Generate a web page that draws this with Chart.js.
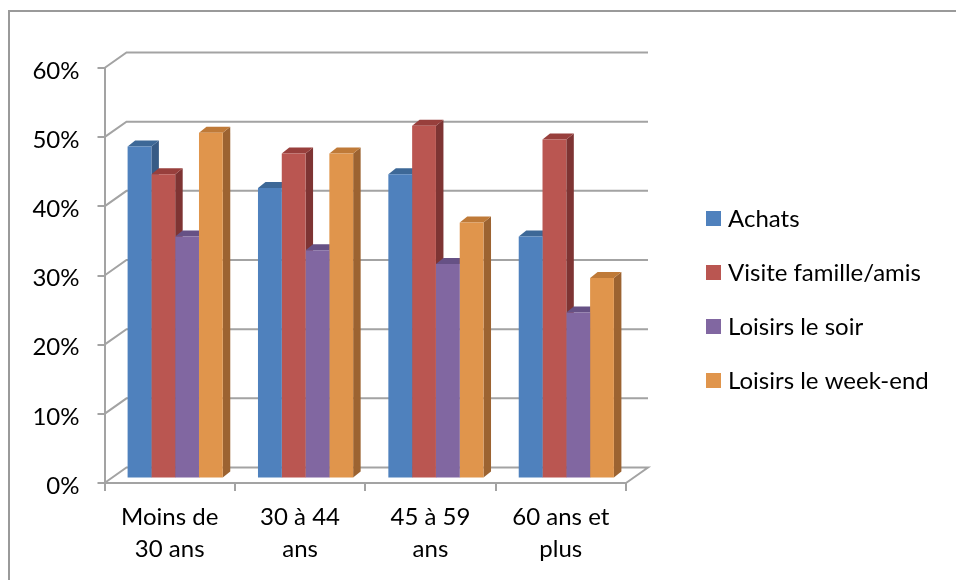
<!DOCTYPE html>
<html>
<head>
<meta charset="utf-8">
<script src="https://cdn.jsdelivr.net/npm/chart.js@4/dist/chart.umd.min.js"></script>
<style>
  html, body { margin: 0; padding: 0; background: #fff; }
  #wrap { width: 956px; height: 580px; }
</style>
</head>
<body>
<div id="wrap"><canvas id="c" width="956" height="580"></canvas></div>
<script>
// ---- data ----
const categories = [["Moins de", "30 ans"], ["30 à 44", "ans"], ["45 à 59", "ans"], ["60 ans et", "plus"]];
const seriesNames = ["Achats", "Visite famille/amis", "Loisirs le soir", "Loisirs le week-end"];
const achats = [48, 42, 44, 35];
const visiteFamilleAmis = [44, 47, 51, 49];
const loisirsSoir = [35, 33, 31, 24];
const loisirsWeekEnd = [50, 47, 37, 29];
const yTickValues = [0, 10, 20, 30, 40, 50, 60];

// ---- styles ----
const FONT = "Lato, 'Open Sans', sans-serif";
const FONT_SIZE = 24;
const GRID = '#a3a3a3';
const frontColors = ['#4F81BD', '#BA5651', '#8167A1', '#E0954C'];
const topColors = ['#3D6897', '#983F3C', '#665185', '#BF7A38'];
const sideColors = ['#375B86', '#7E3433', '#584674', '#9C6331'];
const FACE = { ox: 5.5, oy: -4.5, dx: 7.5, dy: -6 };
const WALL = { dx: 22, dy: -15.5 };

const seriesValues = [achats, visiteFamilleAmis, loisirsSoir, loisirsWeekEnd];

const threeD = {
  id: 'threeD',
  beforeDatasetsDraw(chart) {
    const { ctx, chartArea: a } = chart;
    const ys = chart.scales.y;
    ctx.save();
    // back wall gridlines + left wall diagonals + floor
    ctx.strokeStyle = GRID;
    ctx.lineWidth = 2;
    ys.ticks.forEach(t => {
      const fy = ys.getPixelForValue(t.value);
      ctx.beginPath();
      ctx.moveTo(a.left, fy);
      ctx.lineTo(a.left + WALL.dx, fy + WALL.dy);
      ctx.lineTo(a.right + WALL.dx, fy + WALL.dy);
      if (t.value === 0) ctx.lineTo(a.right, fy);
      ctx.stroke();
    });
    // bar side and top faces, placed at the bars' depth
    ctx.translate(FACE.ox, FACE.oy);
    chart.data.datasets.forEach((ds, i) => {
      chart.getDatasetMeta(i).data.forEach(bar => {
        const p = bar.getProps(['x', 'y', 'base', 'width'], true);
        const l = p.x - p.width / 2, r = p.x + p.width / 2;
        const top = p.y, base = p.base;
        ctx.fillStyle = sideColors[i];
        ctx.beginPath();
        ctx.moveTo(r, top);
        ctx.lineTo(r + FACE.dx, top + FACE.dy);
        ctx.lineTo(r + FACE.dx, base + FACE.dy);
        ctx.lineTo(r, base);
        ctx.closePath();
        ctx.fill();
        ctx.fillStyle = topColors[i];
        ctx.beginPath();
        ctx.moveTo(l, top);
        ctx.lineTo(r, top);
        ctx.lineTo(r + FACE.dx, top + FACE.dy);
        ctx.lineTo(l + FACE.dx, top + FACE.dy);
        ctx.closePath();
        ctx.fill();
      });
    });
    // the library then draws the front faces with this same offset
  },
  afterDatasetsDraw(chart) {
    chart.ctx.restore();
  },
  afterDraw(chart) {
    const ctx = chart.ctx;
    ctx.save();
    // outer frame
    ctx.strokeStyle = '#9a9a9a';
    ctx.lineWidth = 2;
    ctx.beginPath();
    ctx.moveTo(9, 600);
    ctx.lineTo(9, 11);
    ctx.lineTo(970, 11);
    ctx.stroke();
    // legend
    ctx.font = FONT_SIZE + 'px ' + FONT;
    ctx.textBaseline = 'middle';
    ctx.textAlign = 'left';
    chart.data.datasets.forEach((ds, i) => {
      const cy = 218.5 + i * 54;
      ctx.fillStyle = ds.backgroundColor;
      ctx.fillRect(706, cy - 7.5, 15, 15);
      ctx.fillStyle = '#000';
      ctx.fillText(ds.label, 728, cy + 1);
    });
    ctx.restore();
  }
};

new Chart(document.getElementById('c'), {
  type: 'bar',
  data: {
    labels: categories,
    datasets: seriesNames.map((name, i) => ({
      label: name,
      data: seriesValues[i],
      backgroundColor: frontColors[i],
      borderWidth: 0,
      categoryPercentage: 0.73,
      barPercentage: 1.0
    }))
  },
  options: {
    responsive: false,
    devicePixelRatio: 1,
    animation: false,
    layout: { padding: { top: 68, right: 330, bottom: 0, left: 0 } },
    plugins: { legend: { display: false }, tooltip: { enabled: false } },
    scales: {
      x: {
        afterFit(s) { s.height = 97; },
        grid: { drawOnChartArea: false, drawTicks: true, tickLength: 8, color: GRID, lineWidth: 2, offset: true },
        border: { display: true, color: GRID, width: 2 },
        ticks: { color: '#000', font: { family: FONT, size: FONT_SIZE, lineHeight: '32px' }, padding: 10, maxRotation: 0, autoSkip: false }
      },
      y: {
        min: 0,
        max: 60,
        afterFit(s) { s.width = 104.5; },
        afterBuildTicks(s) { s.ticks = yTickValues.map(v => ({ value: v })); },
        grid: { drawOnChartArea: false, drawTicks: true, tickLength: 7, color: GRID, lineWidth: 2 },
        border: { display: true, color: GRID, width: 2 },
        ticks: { color: '#000', font: { family: FONT, size: FONT_SIZE }, padding: 18, labelOffset: 3, callback: v => v + '%' }
      }
    }
  },
  plugins: [threeD]
});
</script>
</body>
</html>
